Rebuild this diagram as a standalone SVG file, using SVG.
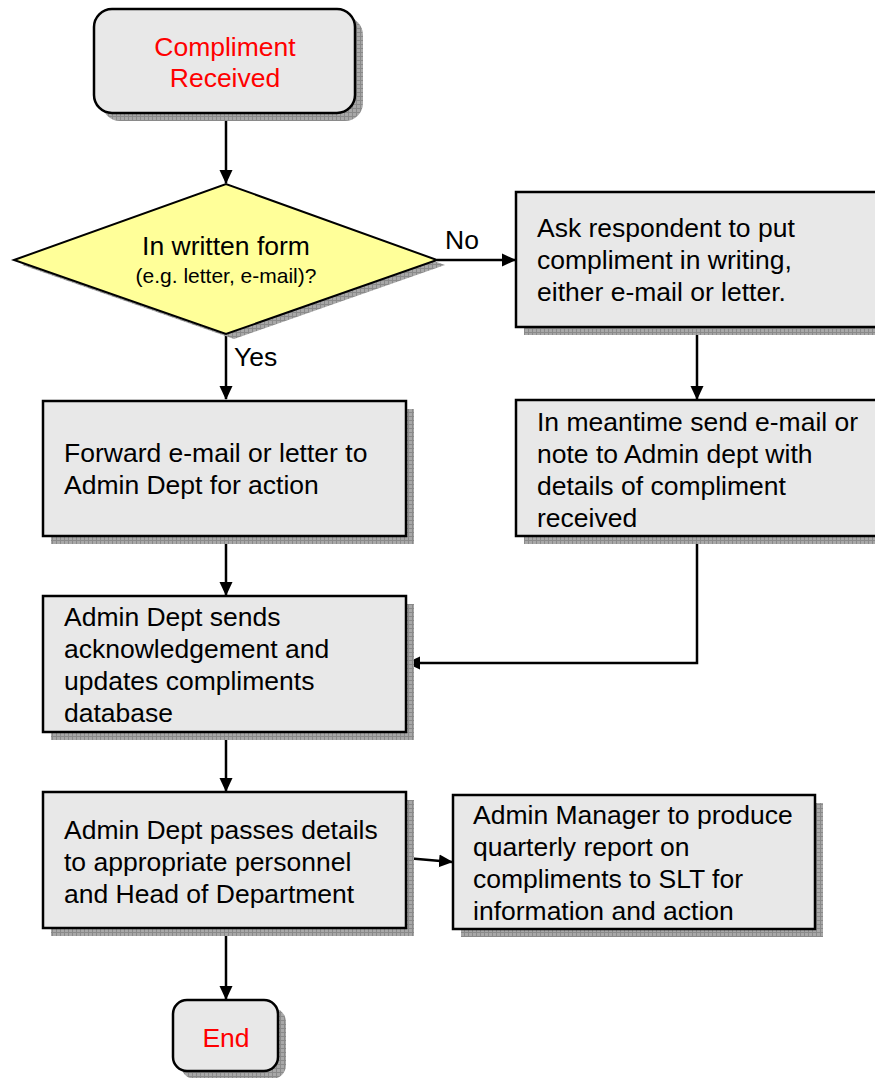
<svg xmlns="http://www.w3.org/2000/svg" width="875" height="1078" viewBox="0 0 875 1078">
<defs>
<pattern id="hatch" width="4" height="4" patternUnits="userSpaceOnUse">
<rect width="4" height="4" fill="#a8a8a8"/>
<path d="M0 0.5H4M0.5 0V4" stroke="#8a8a8a" stroke-width="1"/>
</pattern>
<marker id="arr" markerWidth="14" markerHeight="14" refX="13" refY="7" orient="auto" markerUnits="userSpaceOnUse">
<path d="M0 0.5L14 7L0 13.5Z" fill="#000"/>
</marker>
</defs>
<style>
.box{fill:#e8e8e8;stroke:#000;stroke-width:2.5}
.shadow{fill:url(#hatch)}
.dec{fill:#ffff99;stroke:#000;stroke-width:2}
.t{font-family:"Liberation Sans",Arial,sans-serif;font-size:26.5px;fill:#000}
.red{fill:#ff0000}
.s{font-size:21px}
.c{fill:none;stroke:#000;stroke-width:2.5}
</style>
<rect width="875" height="1078" fill="#fff"/>
<g id="connectors">
<path class="c" d="M226 113V183" marker-end="url(#arr)"/>
<path class="c" d="M437 260H515" marker-end="url(#arr)"/>
<path class="c" d="M226 334V399" marker-end="url(#arr)"/>
<path class="c" d="M697 327V399" marker-end="url(#arr)"/>
<path class="c" d="M226 536V595" marker-end="url(#arr)"/>
<path class="c" d="M697 536V663H407" marker-end="url(#arr)"/>
<path class="c" d="M226 732V791" marker-end="url(#arr)"/>
<path class="c" d="M406 858L452 862" marker-end="url(#arr)"/>
<path class="c" d="M226 928V999" marker-end="url(#arr)"/>
<text class="t" x="445" y="249">No</text>
<text class="t" x="234" y="366">Yes</text>
</g>
<g id="start">
<rect class="shadow" x="102" y="17" width="261" height="104" rx="18"/>
<rect class="box" x="94" y="9" width="261" height="104" rx="18"/>
<text class="t red" x="225" y="56" text-anchor="middle">Compliment</text>
<text class="t red" x="225" y="87" text-anchor="middle">Received</text>
</g>
<g id="decision">
<polygon class="shadow" points="22,265 234,189 445,265 234,339"/>
<polygon class="dec" points="14,260 226,184 437,260 226,334"/>
<text class="t" x="226" y="255" text-anchor="middle">In written form</text>
<text class="t s" x="226" y="283" text-anchor="middle">(e.g. letter, e-mail)?</text>
</g>
<g id="ask">
<rect class="shadow" x="524" y="200" width="380" height="135"/>
<rect class="box" x="516" y="192" width="380" height="135"/>
<text class="t" x="537" y="237">Ask respondent to put</text>
<text class="t" x="537" y="269">compliment in writing,</text>
<text class="t" x="537" y="301">either e-mail or letter.</text>
</g>
<g id="meantime">
<rect class="shadow" x="524" y="408" width="380" height="136"/>
<rect class="box" x="516" y="400" width="380" height="136"/>
<text class="t" x="537" y="431">In meantime send e-mail or</text>
<text class="t" x="537" y="463">note to Admin dept with</text>
<text class="t" x="537" y="495">details of compliment</text>
<text class="t" x="537" y="527">received</text>
</g>
<g id="forward">
<rect class="shadow" x="51" y="409" width="363" height="135"/>
<rect class="box" x="43" y="401" width="363" height="135"/>
<text class="t" x="64" y="462">Forward e-mail or letter to</text>
<text class="t" x="64" y="494">Admin Dept for action</text>
</g>
<g id="sends">
<rect class="shadow" x="51" y="604" width="363" height="136"/>
<rect class="box" x="43" y="596" width="363" height="136"/>
<text class="t" x="64" y="626">Admin Dept sends</text>
<text class="t" x="64" y="658">acknowledgement and</text>
<text class="t" x="64" y="690">updates compliments</text>
<text class="t" x="64" y="722">database</text>
</g>
<g id="passes">
<rect class="shadow" x="51" y="800" width="363" height="136"/>
<rect class="box" x="43" y="792" width="363" height="136"/>
<text class="t" x="64" y="839">Admin Dept passes details</text>
<text class="t" x="64" y="871">to appropriate personnel</text>
<text class="t" x="64" y="903">and Head of Department</text>
</g>
<g id="report">
<rect class="shadow" x="461" y="803" width="362" height="134"/>
<rect class="box" x="453" y="795" width="362" height="134"/>
<text class="t" x="473" y="824">Admin Manager to produce</text>
<text class="t" x="473" y="856">quarterly report on</text>
<text class="t" x="473" y="888">compliments to SLT for</text>
<text class="t" x="473" y="920">information and action</text>
</g>
<g id="end">
<rect class="shadow" x="181" y="1008" width="105" height="71" rx="14"/>
<rect class="box" x="173" y="1000" width="105" height="71" rx="14"/>
<text class="t red" x="226" y="1047" text-anchor="middle">End</text>
</g>
</svg>
